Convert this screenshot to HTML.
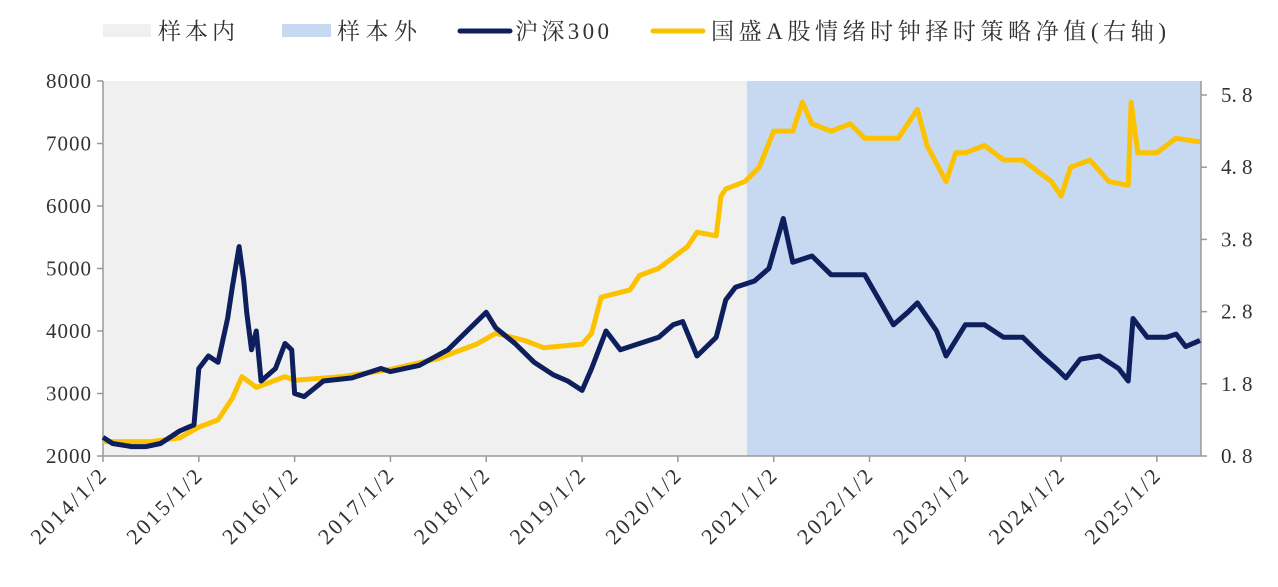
<!DOCTYPE html>
<html><head><meta charset="utf-8"><style>
body{margin:0;background:#fff;}
svg text{font-family:"Liberation Serif","Noto Serif CJK SC",serif;fill:#333;}
</style></head><body>
<svg width="1278" height="582" xmlns="http://www.w3.org/2000/svg">
<g id="legend">
 <rect x="103" y="24" width="48" height="13" fill="#f0f0f0"/>
 <text x="158" y="39" font-size="23" textLength="77">样本内</text>
 <rect x="282" y="24" width="49" height="13" fill="#c6d9f0"/>
 <text x="337" y="39" font-size="23" textLength="80">样本外</text>
 <line x1="460" y1="31" x2="510" y2="31" stroke="#0d1f5c" stroke-width="5" stroke-linecap="round"/>
 <text x="515" y="39" font-size="23" textLength="94">沪深300</text>
 <line x1="653" y1="31" x2="703" y2="31" stroke="#fcc200" stroke-width="5" stroke-linecap="round"/>
 <text x="711" y="39" font-size="23" textLength="455">国盛A股情绪时钟择时策略净值(右轴)</text>
</g>
<g id="plot"></g>
</svg>
<script>
const yearTicks=[2014,2015,2016,2017,2018,2019,2020,2021,2022,2023,2024,2025];
const leftTicks=[2000,3000,4000,5000,6000,7000,8000];
const rightTicks=[0.8,1.8,2.8,3.8,4.8,5.8];
const sampleSplit=2020.72;
const csiT=[2014.0,2014.1,2014.3,2014.45,2014.6,2014.8,2014.95,2015.0,2015.1,2015.2,2015.3,2015.35,2015.42,2015.47,2015.5,2015.55,2015.6,2015.65,2015.8,2015.9,2015.97,2016.0,2016.1,2016.3,2016.6,2016.9,2017.0,2017.3,2017.6,2017.8,2018.0,2018.1,2018.3,2018.5,2018.7,2018.85,2019.0,2019.1,2019.25,2019.4,2019.6,2019.8,2019.95,2020.05,2020.2,2020.4,2020.5,2020.6,2020.8,2020.95,2021.1,2021.2,2021.4,2021.6,2021.8,2021.95,2022.1,2022.25,2022.4,2022.5,2022.7,2022.8,2023.0,2023.2,2023.4,2023.6,2023.8,2023.95,2024.05,2024.2,2024.4,2024.6,2024.7,2024.75,2024.9,2025.1,2025.2,2025.3,2025.45];
const csiV=[2300,2200,2150,2150,2200,2400,2500,3400,3600,3500,4200,4700,5350,4800,4300,3700,4000,3200,3400,3800,3700,3000,2950,3200,3250,3400,3350,3450,3700,4000,4300,4050,3800,3500,3300,3200,3050,3400,4000,3700,3800,3900,4100,4150,3600,3900,4500,4700,4800,5000,5800,5100,5200,4900,4900,4900,4500,4100,4300,4450,4000,3600,4100,4100,3900,3900,3600,3400,3250,3550,3600,3400,3200,4200,3900,3900,3950,3750,3850];
const navT=[2014.0,2014.5,2014.8,2015.0,2015.2,2015.35,2015.45,2015.6,2015.9,2016.0,2016.5,2017.0,2017.5,2017.9,2018.1,2018.4,2018.6,2019.0,2019.1,2019.2,2019.5,2019.6,2019.8,2019.9,2020.1,2020.2,2020.4,2020.45,2020.5,2020.7,2020.85,2021.0,2021.2,2021.3,2021.4,2021.6,2021.8,2021.95,2022.1,2022.3,2022.5,2022.6,2022.8,2022.9,2023.0,2023.2,2023.4,2023.6,2023.9,2024.0,2024.1,2024.3,2024.5,2024.7,2024.73,2024.8,2025.0,2025.2,2025.45];
const navV=[1.0,1.0,1.05,1.2,1.3,1.6,1.9,1.75,1.9,1.85,1.9,2.0,2.15,2.35,2.5,2.4,2.3,2.35,2.5,3.0,3.1,3.3,3.4,3.5,3.7,3.9,3.85,4.4,4.5,4.6,4.8,5.3,5.3,5.7,5.4,5.3,5.4,5.2,5.2,5.2,5.6,5.1,4.6,5.0,5.0,5.1,4.9,4.9,4.6,4.4,4.8,4.9,4.6,4.55,5.7,5.0,5.0,5.2,5.15];

const X0=103,X1=1201,T0=2014.0,T1=2025.46,YT=81,YB=456;
const xs=t=>X0+(t-T0)/(T1-T0)*(X1-X0);
const yl=v=>YB-(v-2000)/6000*(YB-YT);
const yr=v=>YB-(v-0.8)/5*(YB-95);
const NS="http://www.w3.org/2000/svg";
const g=document.getElementById('plot');
function mk(tag,attrs,parent){const e=document.createElementNS(NS,tag);for(const k in attrs)e.setAttribute(k,attrs[k]);(parent||g).appendChild(e);return e;}
let e;
e=mk('rect',{x:X0,y:YT,width:xs(sampleSplit)-X0,height:YB-YT,fill:'#f0f0f0'});


e=mk('rect',{x:xs(sampleSplit),y:YT,width:X1-xs(sampleSplit),height:YB-YT,fill:'#c6d9f0'});


e=mk('line',{x1:X0,y1:YT,x2:X0,y2:YB,stroke:'#999','stroke-width':1.5});


e=mk('line',{x1:X1,y1:YT,x2:X1,y2:YB,stroke:'#999','stroke-width':1.5});


e=mk('line',{x1:X0,y1:YB,x2:X1,y2:YB,stroke:'#999','stroke-width':1.5});


leftTicks.forEach(v=>{
 mk('line',{x1:X0-6,y1:yl(v),x2:X0,y2:yl(v),stroke:'#999','stroke-width':1.5});
 e=mk('text',{x:X0-11,y:yl(v)+7,'font-size':21,'text-anchor':'end','letter-spacing':1});e.textContent=v;
 
 
});
rightTicks.forEach(v=>{
 mk('line',{x1:X1,y1:yr(v),x2:X1+6,y2:yr(v),stroke:'#999','stroke-width':1.5});
 e=mk('text',{x:X1+20,y:yr(v)+7,'font-size':21});e.textContent=v.toFixed(1).replace('.','.\u00a0');
 
 
});
yearTicks.forEach(yv=>{
 const x=xs(yv);
 mk('line',{x1:x,y1:YB,x2:x,y2:YB+6,stroke:'#999','stroke-width':1.5});
 e=mk('text',{x:x+6,y:YB+20,'font-size':22,'letter-spacing':2.5,'text-anchor':'end',transform:`rotate(-45 ${x+6} ${YB+20})`});e.textContent=yv+'/1/2';
 
 
});
function path(ts,vs,yf){return ts.map((t,i)=>(i?'L':'M')+xs(t).toFixed(1)+','+yf(vs[i]).toFixed(1)).join('');}
e=mk('path',{d:path(navT,navV,yr),fill:'none',stroke:'#fcc200','stroke-width':5,'stroke-linejoin':'round'});


e=mk('path',{d:path(csiT,csiV,yl),fill:'none',stroke:'#0d1f5c','stroke-width':5,'stroke-linejoin':'round'});


</script>
</body></html>
